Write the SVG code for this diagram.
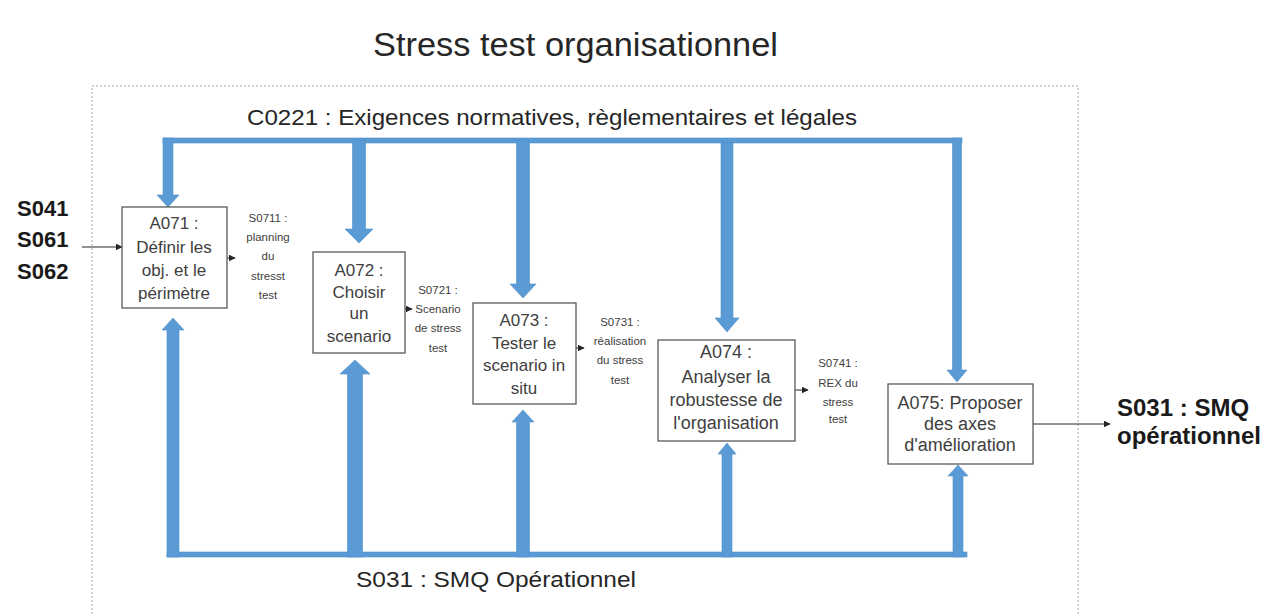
<svg xmlns="http://www.w3.org/2000/svg" width="1273" height="615" viewBox="0 0 1273 615">
<defs>
<style>
.title{font-family:"Liberation Sans",Arial,sans-serif;font-size:33px;fill:#262626}
.lbl{font-family:"Liberation Sans",Arial,sans-serif;font-size:22px;fill:#262626}
.io{font-family:"Liberation Sans",Arial,sans-serif;font-size:22px;font-weight:bold;fill:#1a1a1a}
.io2{font-family:"Liberation Sans",Arial,sans-serif;font-size:24px;font-weight:bold;fill:#1a1a1a}
.box{fill:#ffffff;stroke:#595959;stroke-width:1.3}
.bt{font-family:"Liberation Sans",Arial,sans-serif;font-size:17px;fill:#404040;text-anchor:middle}
.bt2{font-family:"Liberation Sans",Arial,sans-serif;font-size:18px;fill:#404040;text-anchor:middle}
.sm{font-family:"Liberation Sans",Arial,sans-serif;font-size:11.5px;fill:#404040;text-anchor:middle}
.blue{fill:#5B9BD5;stroke:#4F8FCB;stroke-width:0.6}
.thin{stroke:#262626;stroke-width:1;fill:none;marker-end:url(#ah)}
.frame{fill:none;stroke:#A6A6A6;stroke-width:1;stroke-dasharray:2 2}
</style>
<marker id="ah" viewBox="0 0 10 10" refX="9" refY="5" markerWidth="7" markerHeight="7" orient="auto" markerUnits="userSpaceOnUse">
<path d="M0,0 L10,5 L0,10 z" fill="#262626"/>
</marker>
</defs>
<rect width="1273" height="615" fill="#ffffff"/>
<text class="title" x="373" y="56" textLength="405" lengthAdjust="spacingAndGlyphs">Stress test organisationnel</text>
<rect class="frame" x="92" y="86" width="986" height="600"/>
<text class="lbl" x="247" y="125" textLength="610" lengthAdjust="spacingAndGlyphs">C0221 : Exigences normatives, règlementaires et légales</text>
<text class="lbl" x="356" y="587" textLength="280" lengthAdjust="spacingAndGlyphs">S031 : SMQ Opérationnel</text>

<g id="connectors">
<!-- top control bar and down arrows -->
<rect class="blue" x="163" y="138" width="799" height="5"/>
<polygon class="blue" points="163,138 173,138 173,195 179,195 168,207 157,195 163,195"/>
<polygon class="blue" points="352.5,140 365.5,140 365.5,229 373,229 359,243 345,229 352.5,229"/>
<polygon class="blue" points="516.5,140 529.5,140 529.5,284 536,284 523,298 510,284 516.5,284"/>
<polygon class="blue" points="721,143 733,143 733,318 739,318 727,332 715,318 721,318"/>
<polygon class="blue" points="952.5,138 961.5,138 961.5,370 967,370 957,382 947,370 952.5,370"/>
<!-- bottom mechanism bar and up arrows -->
<rect class="blue" x="167" y="552" width="800" height="5"/>
<polygon class="blue" points="167,557 179,557 179,330 184,330 173,318 162,330 167,330"/>
<polygon class="blue" points="347.5,557 362.5,557 362.5,374 370,374 355,360 340,374 347.5,374"/>
<polygon class="blue" points="516.5,557 529.5,557 529.5,422 534,422 523,410 512,422 516.5,422"/>
<polygon class="blue" points="722,557 732,557 732,454 736,454 727,443 718,454 722,454"/>
<polygon class="blue" points="953,557 963,557 963,476 968,476 958,465 948,476 953,476"/>
<!-- thin flow arrows -->
<line class="thin" x1="82" y1="247" x2="122" y2="247"/>
<line class="thin" x1="227" y1="258" x2="235" y2="258"/>
<line class="thin" x1="405" y1="309" x2="412" y2="309"/>
<line class="thin" x1="576" y1="348" x2="584" y2="348"/>
<line class="thin" x1="795" y1="390" x2="808" y2="390"/>
<line class="thin" x1="1033" y1="424" x2="1110" y2="424"/>
</g>

<g id="inputs">
<text class="io" x="17" y="216">S041</text>
<text class="io" x="17" y="247">S061</text>
<text class="io" x="17" y="279">S062</text>
</g>

<g id="output">
<text class="io2" x="1117" y="416">S031 : SMQ</text>
<text class="io2" x="1117" y="444">opérationnel</text>
</g>

<g id="A071">
<rect class="box" x="122" y="207" width="105" height="101"/>
<text class="bt" x="174" y="229">A071 :</text>
<text class="bt" x="174" y="253">Définir les</text>
<text class="bt" x="174" y="276">obj. et le</text>
<text class="bt" x="174" y="299">périmètre</text>
</g>

<g id="S0711">
<text class="sm" x="268" y="222">S0711 :</text>
<text class="sm" x="268" y="241">planning</text>
<text class="sm" x="268" y="260">du</text>
<text class="sm" x="268" y="280">stresst</text>
<text class="sm" x="268" y="299">test</text>
</g>

<g id="A072">
<rect class="box" x="313" y="252" width="92" height="101"/>
<text class="bt" x="359" y="276">A072 :</text>
<text class="bt" x="359" y="298">Choisir</text>
<text class="bt" x="359" y="319">un</text>
<text class="bt" x="359" y="342">scenario</text>
</g>

<g id="S0721">
<text class="sm" x="438" y="294">S0721 :</text>
<text class="sm" x="438" y="313">Scenario</text>
<text class="sm" x="438" y="332">de stress</text>
<text class="sm" x="438" y="352">test</text>
</g>

<g id="A073">
<rect class="box" x="473" y="303" width="103" height="101"/>
<text class="bt" x="524" y="326">A073 :</text>
<text class="bt" x="524" y="349">Tester le</text>
<text class="bt" x="524" y="371">scenario in</text>
<text class="bt" x="524" y="394">situ</text>
</g>

<g id="S0731">
<text class="sm" x="620" y="326">S0731 :</text>
<text class="sm" x="620" y="345">réalisation</text>
<text class="sm" x="620" y="364">du stress</text>
<text class="sm" x="620" y="384">test</text>
</g>

<g id="A074">
<rect class="box" x="658" y="340" width="137" height="101"/>
<text class="bt2" x="726" y="358">A074 :</text>
<text class="bt2" x="726" y="383">Analyser la</text>
<text class="bt2" x="726" y="406">robustesse de</text>
<text class="bt2" x="726" y="429">l'organisation</text>
</g>

<g id="S0741">
<text class="sm" x="838" y="367">S0741 :</text>
<text class="sm" x="838" y="387">REX du</text>
<text class="sm" x="838" y="406">stress</text>
<text class="sm" x="838" y="423">test</text>
</g>

<g id="A075">
<rect class="box" x="888" y="384" width="145" height="80"/>
<text class="bt2" x="960" y="409">A075: Proposer</text>
<text class="bt2" x="960" y="430">des axes</text>
<text class="bt2" x="960" y="451">d'amélioration</text>
</g>
</svg>
